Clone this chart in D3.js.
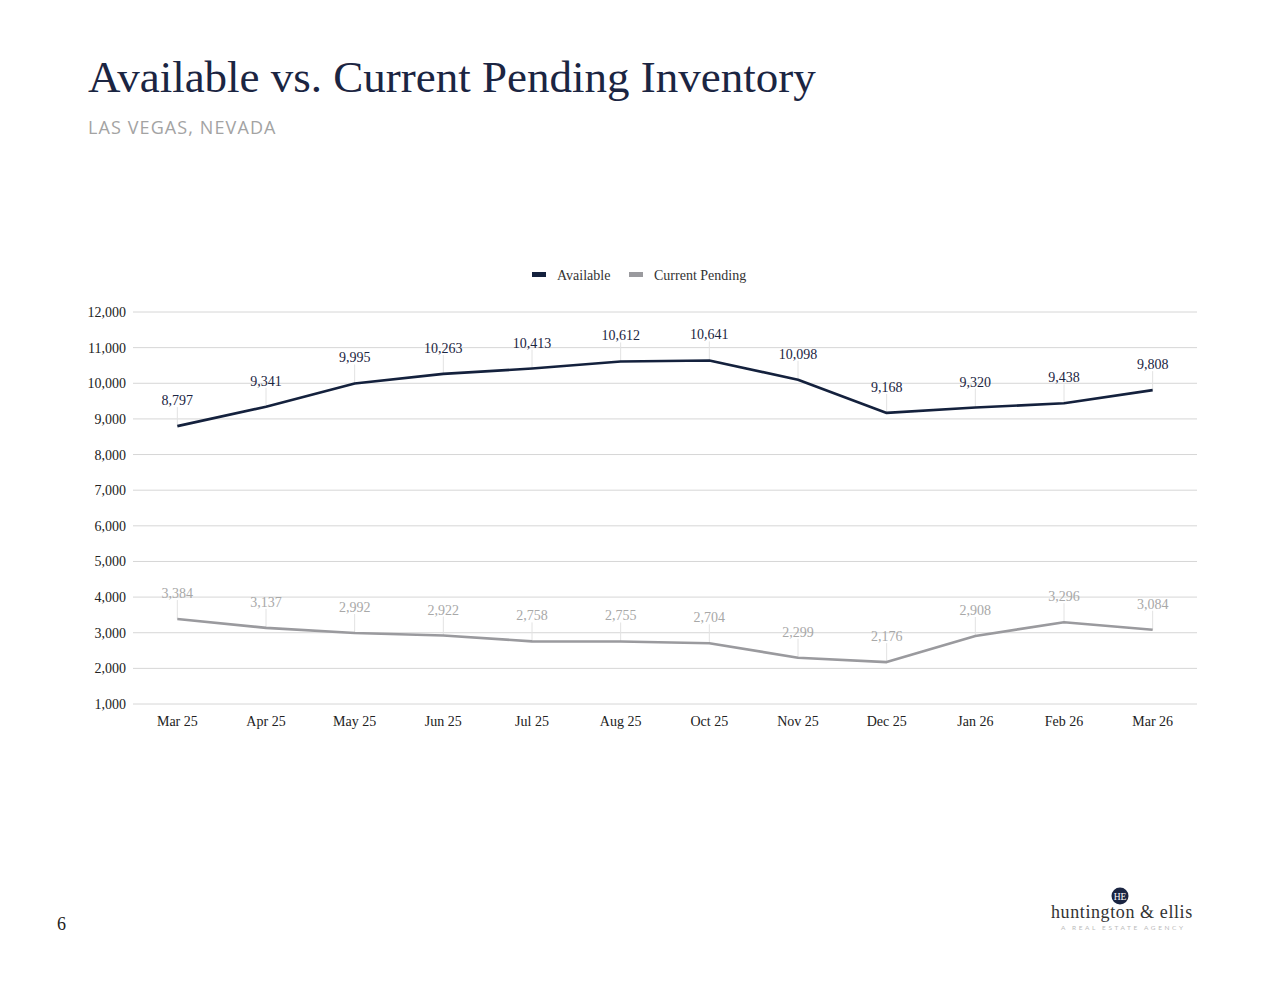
<!DOCTYPE html>
<html><head><meta charset="utf-8">
<script src="https://cdn.jsdelivr.net/npm/d3@7/dist/d3.min.js"></script>
<style>
html,body{margin:0;padding:0;background:#fff;}
svg{display:block;}
</style></head>
<body>
<svg id="c" width="1280" height="989"></svg>
<script>
const categories = ["Mar 25","Apr 25","May 25","Jun 25","Jul 25","Aug 25","Oct 25","Nov 25","Dec 25","Jan 26","Feb 26","Mar 26"];
const available = [8797,9341,9995,10263,10413,10612,10641,10098,9168,9320,9438,9808];
const pending = [3384,3137,2992,2922,2758,2755,2704,2299,2176,2908,3296,3084];
const yTicks = [1000,2000,3000,4000,5000,6000,7000,8000,9000,10000,11000,12000];
const seriesNames = ["Available","Current Pending"];

(function(){
const svg = d3.select("#c");
const serif = "'Liberation Serif','DejaVu Serif',serif";
const navy = "#14213d", gray = "#9a9a9e";

svg.append("text").attr("x",88).attr("y",92).attr("font-family",serif).attr("font-size",45)
  .attr("fill","#1b2542").text("Available vs. Current Pending Inventory");
svg.append("text").attr("x",88).attr("y",134).attr("font-family","'Open Sans',Lato,sans-serif").attr("font-weight",400)
  .attr("font-size",18).attr("letter-spacing",1.1).attr("fill","#a3a3a3").text("LAS VEGAS, NEVADA");

const pL=133,pR=1197,pT=312,pB=704;
const x = d3.scaleBand().domain(categories).range([pL,pR]);
const y = d3.scaleLinear().domain([1000,12000]).range([pB,pT]);
const cx = d => x(d)+x.bandwidth()/2;

svg.append("g").selectAll("line").data(yTicks).join("line")
  .attr("x1",pL).attr("x2",pR).attr("y1",d=>y(d)).attr("y2",d=>y(d))
  .attr("stroke","#d6d6d6").attr("stroke-width",1);

const yAxis = svg.append("g").attr("transform",`translate(${pL},0)`)
  .call(d3.axisLeft(y).tickValues(yTicks).tickFormat(d3.format(",")).tickSize(0).tickPadding(7));
yAxis.select(".domain").remove();
yAxis.selectAll("text").attr("font-family",serif).attr("font-size",14).attr("fill","#222");

const xAxis = svg.append("g").attr("transform",`translate(0,${pB})`)
  .call(d3.axisBottom(x).tickSize(0).tickPadding(12));
xAxis.select(".domain").remove();
xAxis.selectAll("text").attr("font-family",serif).attr("font-size",14).attr("fill","#222");

const series = [
  {name:seriesNames[0], values:available, color:navy, label:"#1b2542"},
  {name:seriesNames[1], values:pending, color:gray, label:"#a8a8a8"}
];
const line = d3.line().x((d,i)=>cx(categories[i])).y(d=>y(d));

series.forEach(s=>{
  const g = svg.append("g");
  g.selectAll("line.lead").data(s.values).join("line").attr("class","lead")
    .attr("x1",(d,i)=>cx(categories[i])).attr("x2",(d,i)=>cx(categories[i]))
    .attr("y1",d=>y(d)-19).attr("y2",d=>y(d))
    .attr("stroke","#e2e2e2").attr("stroke-width",1);
  g.append("path").datum(s.values).attr("d",line).attr("fill","none")
    .attr("stroke",s.color).attr("stroke-width",2.6).attr("stroke-linejoin","round");
  g.selectAll("text").data(s.values).join("text")
    .attr("x",(d,i)=>cx(categories[i])).attr("y",d=>y(d)-21)
    .attr("text-anchor","middle").attr("font-family",serif).attr("font-size",14)
    .attr("fill",s.label).text(d=>d3.format(",")(d));
});

const leg = svg.append("g");
const legItems = [{x:532,color:navy,name:seriesNames[0]},{x:629,color:gray,name:seriesNames[1]}];
legItems.forEach(it=>{
  leg.append("rect").attr("x",it.x).attr("y",272).attr("width",14).attr("height",5).attr("fill",it.color);
  leg.append("text").attr("x",it.x+25).attr("y",280).attr("font-family",serif).attr("font-size",14)
    .attr("fill","#333").text(it.name);
});

svg.append("text").attr("x",57).attr("y",930).attr("font-family",serif).attr("font-size",18).attr("fill","#222").text("6");

svg.append("circle").attr("cx",1120).attr("cy",896).attr("r",8.5).attr("fill","#1b2542");
svg.append("text").attr("x",1120).attr("y",899.5).attr("text-anchor","middle").attr("font-family",serif)
  .attr("font-size",9.5).attr("fill","#fff").text("HE");
svg.append("text").attr("x",1051).attr("y",918).attr("font-family",serif).attr("font-size",18)
  .attr("fill","#333").attr("letter-spacing",0.6).text("huntington & ellis");
svg.append("text").attr("x",1061).attr("y",930).attr("font-family","Lato,sans-serif").attr("font-size",6.5)
  .attr("fill","#bbb").attr("letter-spacing",2.6).text("A REAL ESTATE AGENCY");
})();
</script>
</body></html>
